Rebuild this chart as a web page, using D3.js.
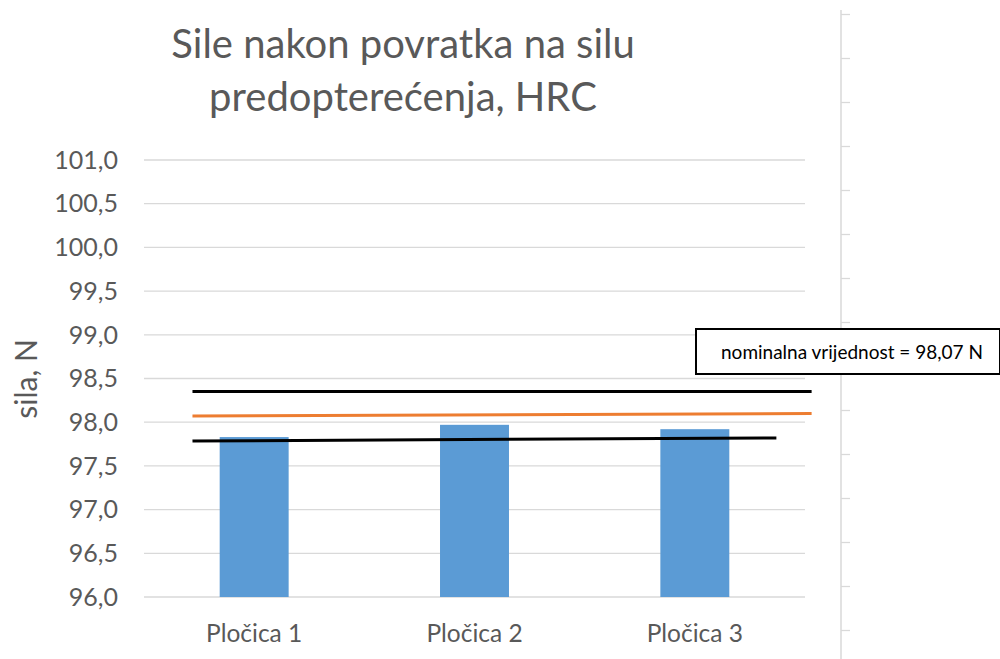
<!DOCTYPE html>
<html lang="hr">
<head>
    <meta charset="UTF-8">
    <title>Sile nakon povratka na silu predopterećenja, HRC</title>
    <style>
        body { margin: 0; background: #fff; }
        text { font-family: Lato, "Open Sans", sans-serif; }
    </style>
    <script src="https://cdn.jsdelivr.net/npm/d3@7"></script>
</head>
<body>
<svg width="1000" height="659"></svg>

<script>
    // chart data
    const categories = ["Pločica 1", "Pločica 2", "Pločica 3"];
    const values = [97.83, 97.97, 97.92];
    const yTicks = [96.0, 96.5, 97.0, 97.5, 98.0, 98.5, 99.0, 99.5, 100.0, 100.5, 101.0];
    const titleLines = ["Sile nakon povratka na silu", "predopterećenja, HRC"];
    const yTitle = "sila, N";
    const nominal = 98.07;
    const noteText = "nominalna vrijednost = " + d3.format(".2f")(nominal).replace(".", ",") + " N";

    // hand drawn lines, x in category units (0..3)
    const upperLine = [[0.22, 98.35], [3.03, 98.35]];
    const nominalLine = [[0.22, 98.07], [3.03, 98.10]];
    const lowerLine = [[0.22, 97.785], [2.87, 97.82]];

    const svg = d3.select("svg");
    const plotLeft = 144, plotRight = 805, plotTop = 160, plotBottom = 597;

    let x = d3.scaleBand()
        .domain(categories)
        .range([plotLeft, plotRight])
        .paddingInner(0.687)
        .paddingOuter(0.3435);
    let xl = d3.scaleLinear().domain([0, 3]).range([plotLeft, plotRight]);
    let y = d3.scaleLinear().domain([96, 101]).range([plotBottom, plotTop]);

    // gridlines
    svg.append("g").selectAll("line")
        .data(yTicks).enter().append("line")
        .attr("x1", plotLeft).attr("x2", plotRight)
        .attr("y1", d => y(d)).attr("y2", d => y(d))
        .attr("stroke", "#d9d9d9").attr("stroke-width", 1.3);

    // y tick labels
    svg.append("g").selectAll("text")
        .data(yTicks).enter().append("text")
        .attr("x", 118).attr("y", d => y(d))
        .attr("dy", "0.35em")
        .attr("text-anchor", "end")
        .attr("fill", "#595959")
        .style("font-size", "25px")
        .text(d => d3.format(".1f")(d).replace(".", ","));

    // bars
    svg.append("g").selectAll("rect")
        .data(values).enter().append("rect")
        .attr("x", (d, i) => x(categories[i]))
        .attr("width", x.bandwidth())
        .attr("y", d => y(d))
        .attr("height", d => y(96) - y(d))
        .attr("fill", "#5b9bd5");

    // x labels
    svg.append("g").selectAll("text")
        .data(categories).enter().append("text")
        .attr("x", d => x(d) + x.bandwidth() / 2)
        .attr("y", 642)
        .attr("text-anchor", "middle")
        .attr("fill", "#595959")
        .style("font-size", "24.5px")
        .text(d => d);

    // axis title
    svg.append("text")
        .attr("transform", "translate(37," + 379 + ")rotate(-90)")
        .attr("text-anchor", "middle")
        .attr("fill", "#595959")
        .style("font-size", "30px")
        .text(yTitle);

    // title
    svg.append("g").selectAll("text")
        .data(titleLines).enter().append("text")
        .attr("x", 403)
        .attr("y", (d, i) => 58 + i * 53)
        .attr("text-anchor", "middle")
        .attr("fill", "#595959")
        .style("font-size", "40px")
        .text(d => d);

    // limit lines and nominal line
    const line = d3.line().x(d => xl(d[0])).y(d => y(d[1]));
    svg.append("path").datum(upperLine).attr("d", line)
        .attr("stroke", "#000").attr("stroke-width", 3).attr("fill", "none");
    svg.append("path").datum(nominalLine).attr("d", line)
        .attr("stroke", "#ed7d31").attr("stroke-width", 3).attr("fill", "none");
    svg.append("path").datum(lowerLine).attr("d", line)
        .attr("stroke", "#000").attr("stroke-width", 3).attr("fill", "none");

    // stray axis of a neighbouring chart on the right
    let ys = d3.scaleLinear().domain([0, 14]).range([14, 630]);
    let side = svg.append("g").attr("transform", "translate(841,0)")
        .call(d3.axisRight(ys).ticks(14).tickSize(9).tickSizeOuter(0).tickFormat(""));
    side.select(".domain").remove();
    side.selectAll("line").attr("stroke", "#d9d9d9").attr("stroke-width", 1.3);
    side.append("line").attr("x1", 0).attr("x2", 0).attr("y1", 10).attr("y2", 659)
        .attr("stroke", "#d9d9d9").attr("stroke-width", 1.5);

    // note box
    let note = svg.append("g");
    note.append("rect")
        .attr("x", 696).attr("y", 329).attr("width", 304).attr("height", 45)
        .attr("fill", "#fff").attr("stroke", "#000").attr("stroke-width", 2);
    note.append("text")
        .attr("x", 852).attr("y", 352)
        .attr("dy", "0.35em")
        .attr("text-anchor", "middle")
        .attr("fill", "#000")
        .style("font-size", "19px")
        .text(noteText);
</script>
</body>
</html>
